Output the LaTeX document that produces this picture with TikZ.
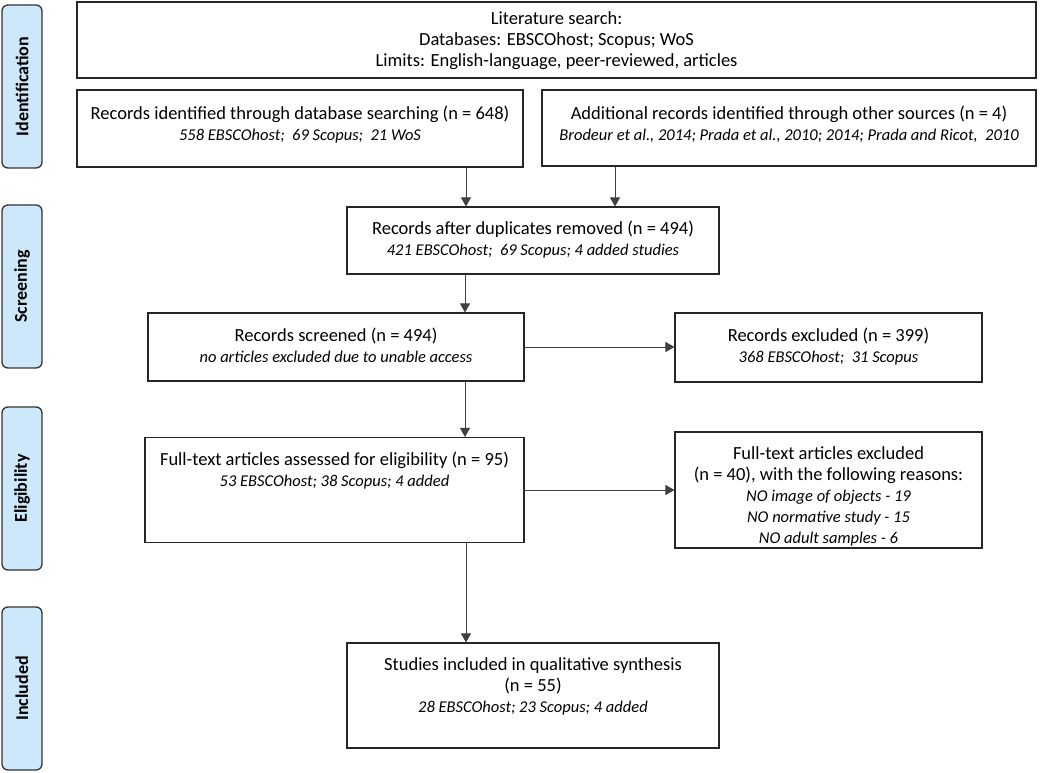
\documentclass[tikz,border=0pt]{standalone}
\usepackage{fontspec}
\setmainfont{Carlito}
\usetikzlibrary{positioning}
\usetikzlibrary{arrows.meta}
\tikzset{>={Triangle[width=10pt,length=9pt]}}
\definecolor{stagefill}{RGB}{206,232,251}
\newcommand{\detail}[1]{{\fontsize{16.5}{20}\selectfont\itshape #1}}

\begin{document}
\begin{tikzpicture}[x=1pt,y=-1pt]
    \tikzstyle{stage} = [draw=black!80, fill=stagefill, rounded corners=6pt, line width=1.3pt, rotate=90, minimum width=163pt, minimum height=40pt, inner sep=0pt, font=\bfseries\fontsize{18}{20}\selectfont]
    \tikzstyle{rnode} = [draw=black!85, line width=1.1pt, rectangle, inner sep=0pt]
    \tikzstyle{nnode} = [inner sep=2pt, align=center, font=\fontsize{18.5}{21}\selectfont]
    \tikzstyle{link} = [draw=black!75, line width=0.9pt]

    \useasboundingbox (0,0) rectangle (1041,773);

    % stages
    \node[stage] (ident-s) at (22,86.5) {Identification};
    \node[stage] (screen-s) at (22,286.5) {Screening};
    \node[stage] (elig-s) at (22,488.5) {Eligibility};
    \node[stage] (incl-s) at (22,688.5) {Included};

    % boxes
    \node[rnode, minimum width=959pt, minimum height=76pt] (lit) at (556.5,40) {};
    \node[nnode, below=8pt of lit.north] (lit-t) {Literature search:\\
      Databases: EBSCOhost; Scopus; WoS\\
      Limits: English-language, peer-reviewed, articles};

    \node[rnode, minimum width=446pt, minimum height=77pt] (ident) at (300,128.5) {};
    \node[nnode, below=14pt of ident.north] (ident-t) {Records identified through database searching (n = 648)\\
      \detail{558 EBSCOhost;\ \ 69 Scopus;\ \ 21 WoS}};

    \node[rnode, minimum width=494pt, minimum height=76pt] (addl) at (789,128) {};
    \node[nnode, below=14pt of addl.north] (addl-t) {Additional records identified through other sources (n = 4)\\
      \detail{Brodeur et al., 2014; Prada et al., 2010; 2014; Prada and Ricot,\ \ 2010}};

    \node[rnode, minimum width=372pt, minimum height=67pt] (dup) at (533,240.5) {};
    \node[nnode, below=12.5pt of dup.north] (dup-t) {Records after duplicates removed (n = 494)\\
      \detail{421 EBSCOhost;\ \ 69 Scopus; 4 added studies}};

    \node[rnode, minimum width=376pt, minimum height=68pt] (screen) at (336,347) {};
    \node[nnode, below=13pt of screen.north] (screen-t) {Records screened (n = 494)\\
      \detail{no articles excluded due to unable access}};

    \node[rnode, minimum width=307pt, minimum height=69pt] (excl) at (828.5,347.5) {};
    \node[nnode, below=13pt of excl.north] (excl-t) {Records excluded (n = 399)\\
      \detail{368 EBSCOhost;\ \ 31 Scopus}};

    \node[rnode, minimum width=379pt, minimum height=105pt] (full) at (334.5,490) {};
    \node[nnode, below=13pt of full.north] (full-t) {Full-text articles assessed for eligibility (n = 95)\\
      \detail{53 EBSCOhost; 38 Scopus; 4 added}};

    \node[rnode, minimum width=307pt, minimum height=116pt] (fexcl) at (828.5,490) {};
    \node[nnode, below=12.5pt of fexcl.north] (fexcl-t) {Full-text articles excluded\\
      (n = 40), with the following reasons:\\
      \detail{NO image of objects - 19}\\
      \detail{NO normative study - 15}\\
      \detail{NO adult samples - 6}};

    \node[rnode, minimum width=372pt, minimum height=105pt] (incl) at (533,695.5) {};
    \node[nnode, below=13pt of incl.north] (incl-t) {Studies included in qualitative synthesis\\
      (n = 55)\\
      \detail{28 EBSCOhost; 23 Scopus; 4 added}};

    % arrows
    \draw[link, ->] ([xshift=166pt]ident.south) -- ([xshift=-67pt]dup.north);
    \draw[link, ->] ([xshift=-174pt]addl.south) -- ([xshift=82pt]dup.north);
    \draw[link, ->] ([xshift=-68pt]dup.south) -- ([xshift=129pt]screen.north);
    \draw[link, ->] (screen.east) -- (screen.east -| excl.west);
    \draw[link, ->] ([xshift=129pt]screen.south) -- ([xshift=130.5pt]full.north);
    \draw[link, ->] (full.east) -- (full.east -| fexcl.west);
    \draw[link, ->] ([xshift=131.5pt]full.south) -- ([xshift=-67pt]incl.north);
\end{tikzpicture}
\end{document}
